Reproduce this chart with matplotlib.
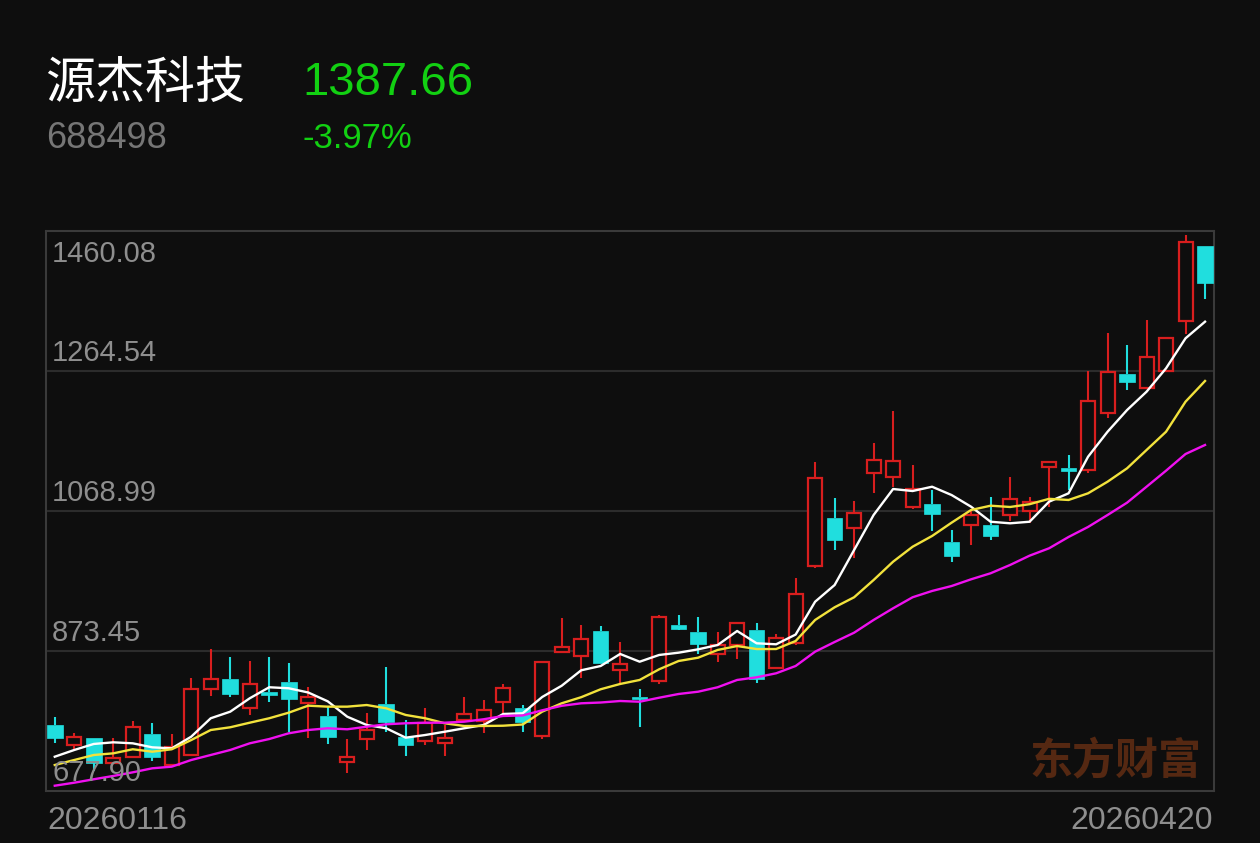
import numpy as np
import matplotlib
matplotlib.use("Agg")
import matplotlib.pyplot as plt

# --- data (60 trading days, 20260116 .. 20260420) ---
opens = [770.1, 742.2, 752.0, 717.0, 725.0, 757.5, 714.2, 728.2, 820.0, 833.9,
         794.3, 816.6, 829.7, 801.3, 782.7, 718.0, 750.1, 799.0, 753.8, 747.8,
         745.4, 777.1, 776.1, 801.8, 793.4, 754.7, 871.6, 866.4, 901.3, 846.9,
         809.6, 832.0, 909.8, 900.4, 869.3, 881.8, 903.2, 849.3, 884.2, 992.2,
         1058.8, 1045.7, 1121.6, 1116.0, 1074.1, 1078.7, 1025.1, 1049.4, 1049.4, 1063.4,
         1069.4, 1130.1, 1128.7, 1126.3, 1206.3, 1261.0, 1241.2, 1264.6, 1334.4, 1439.0]
highs = [781.3, 758.9, 752.0, 752.0, 775.7, 773.3, 757.5, 835.3, 876.3, 865.5,
         859.9, 864.7, 856.3, 823.6, 795.7, 750.6, 786.4, 850.7, 777.1, 793.4,
         770.1, 808.8, 805.0, 827.4, 798.0, 858.5, 919.1, 909.7, 908.3, 886.5,
         820.4, 923.7, 923.7, 920.5, 899.5, 912.2, 912.2, 897.2, 975.0, 1137.8,
         1086.8, 1083.4, 1163.5, 1209.1, 1133.2, 1098.2, 1042.8, 1070.3, 1088.9, 1116.0,
         1088.3, 1137.1, 1147.3, 1264.6, 1317.6, 1300.5, 1335.8, 1310.3, 1454.5, 1439.0]
lows = [745.0, 735.2, 706.3, 717.0, 723.6, 720.2, 711.9, 728.2, 810.6, 808.8,
        784.1, 802.6, 760.7, 751.5, 743.6, 703.5, 735.2, 759.9, 726.8, 742.2,
        726.8, 777.1, 759.3, 786.4, 760.7, 750.1, 871.6, 835.3, 857.1, 828.3,
        766.9, 826.9, 902.8, 869.3, 858.5, 861.9, 829.2, 849.3, 881.8, 988.9,
        1014.5, 1003.2, 1093.7, 1103.0, 1071.3, 1040.7, 997.8, 1021.5, 1028.5, 1055.4,
        1052.7, 1075.1, 1098.3, 1121.7, 1198.5, 1238.0, 1241.2, 1264.6, 1316.3, 1365.1]
closes = [752.4, 753.8, 717.0, 724.4, 767.7, 725.8, 739.8, 820.4, 834.4, 813.0,
          826.9, 812.0, 806.4, 808.8, 753.8, 725.0, 763.1, 774.7, 742.2, 772.5,
          752.4, 785.1, 791.1, 821.4, 774.7, 858.5, 878.6, 889.8, 857.1, 854.9,
          806.0, 920.5, 903.8, 882.8, 881.8, 912.2, 834.0, 892.0, 953.1, 1114.8,
          1028.5, 1065.9, 1140.2, 1139.2, 1099.6, 1064.6, 1006.2, 1063.7, 1034.7, 1085.3,
          1082.0, 1137.1, 1125.3, 1222.8, 1263.2, 1249.4, 1283.6, 1310.3, 1445.03, 1387.66]

ma5 = [725.8, 735.2, 743.6, 745.9, 744.5, 738.9, 737.5, 753.8, 779.5, 788.7,
       807.4, 822.8, 821.4, 815.5, 803.2, 781.7, 770.1, 765.5, 752.4, 756.1,
       760.7, 765.5, 770.1, 785.5, 786.4, 809.2, 824.9, 846.5, 852.5, 869.3,
       858.5, 867.9, 871.1, 875.8, 881.8, 901.4, 884.2, 882.8, 896.4, 942.3,
       965.6, 1014.5, 1063.4, 1099.7, 1096.9, 1102.9, 1091.3, 1075.0, 1054.0, 1051.8,
       1054.0, 1082.0, 1093.7, 1144.8, 1179.7, 1210.0, 1235.6, 1268.3, 1310.2, 1333.4]
ma10 = [714.2, 721.2, 728.2, 730.5, 736.2, 732.8, 736.2, 749.1, 763.1, 766.9,
        773.3, 779.5, 787.3, 797.1, 795.7, 795.7, 798.0, 793.4, 784.1, 779.5,
        772.5, 768.7, 768.7, 769.1, 770.8, 788.7, 800.4, 808.9, 820.0, 827.4,
        833.0, 847.9, 859.5, 864.1, 874.9, 880.4, 876.2, 876.2, 887.4, 916.8,
        934.5, 948.5, 972.6, 998.2, 1019.1, 1034.1, 1052.7, 1070.4, 1076.4, 1074.6,
        1078.5, 1086.0, 1084.4, 1093.7, 1109.9, 1128.6, 1154.2, 1179.7, 1221.7, 1250.6]
ma20 = [685.3, 689.5, 694.3, 698.9, 704.0, 709.6, 711.9, 721.2, 728.2, 735.2,
        744.5, 750.5, 758.5, 763.1, 765.5, 764.1, 767.7, 771.1, 772.5, 773.3,
        773.3, 774.7, 778.1, 782.7, 783.4, 790.6, 796.9, 800.4, 801.5, 803.6,
        802.6, 808.2, 813.4, 816.6, 822.8, 833.0, 836.7, 842.3, 852.5, 872.5,
        886.0, 899.0, 916.8, 933.1, 948.5, 957.3, 964.2, 973.6, 982.0, 993.6,
        1006.6, 1016.9, 1032.7, 1046.7, 1063.4, 1080.6, 1102.9, 1125.3, 1148.6, 1161.2]

y_ticks = [1460.08, 1264.54, 1068.99, 873.45, 677.90]
date_labels = ["20260116", "20260420"]
stock_name = "源杰科技"
stock_code = "688498"
last_price = "1387.66"
pct_change = "-3.97%"

BG = "#0e0e0e"
UP = "#d81e1e"
DOWN = "#20dede"
W, H = 1260, 843

fig = plt.figure(figsize=(W / 100, H / 100), dpi=100, facecolor=BG)
ax = fig.add_axes([46 / W, (H - 791) / H, 1168 / W, 560 / H], facecolor=BG)

x = np.arange(len(closes))
for i in x:
    o, h, l, c = opens[i], highs[i], lows[i], closes[i]
    up = c >= o
    col = UP if up else DOWN
    top, bot = max(o, c), min(o, c)
    # wicks drawn above and below the body so hollow bodies stay empty
    ax.plot([i, i], [top, h], color=col, lw=1.5, solid_capstyle="butt", zorder=3)
    ax.plot([i, i], [l, bot], color=col, lw=1.5, solid_capstyle="butt", zorder=3)
    body = max(top - bot, 1.0)
    if up:
        ax.bar(i, body, bottom=bot, width=0.72, facecolor=BG, edgecolor=col,
               linewidth=1.6, zorder=3)
    else:
        ax.bar(i, body, bottom=bot, width=0.8, facecolor=col, edgecolor=col,
               linewidth=0.5, zorder=3)

ax.plot(x, ma5, color="white", lw=1.7, zorder=4)
ax.plot(x, ma10, color="#f2e23c", lw=1.7, zorder=4)
ax.plot(x, ma20, color="#f010f0", lw=1.7, zorder=4)

ax.set_xlim(-0.45, 59.46)
ax.set_ylim(y_ticks[-1], y_ticks[0])
ax.set_xticks([])
ax.set_yticks([])
for v in y_ticks[1:-1]:
    ax.axhline(v, color="#2c2c2c", lw=1.5, zorder=1)
for s in ax.spines.values():
    s.set_color("#3a3a3a")
    s.set_linewidth(1.5)

num_font = "Liberation Sans"
cjk = ["Noto Sans CJK SC", "DejaVu Sans"]


def fx(px):
    return px / W


def fy(py):
    return 1 - py / H


# y axis labels, drawn inside the plot
label_base = [262, 361, 501, 641, 781]
for v, b in zip(y_ticks, label_base):
    fig.text(fx(52), fy(b), f"{v:.2f}", color="#8e8e8e", fontsize=21,
             family=num_font, va="baseline", ha="left")

fig.text(fx(47), fy(829), date_labels[0], color="#8e8e8e", fontsize=23,
         family=num_font, va="baseline", ha="left")
fig.text(fx(1213), fy(829), date_labels[1], color="#8e8e8e", fontsize=23,
         family=num_font, va="baseline", ha="right")

# header
fig.text(fx(45), fy(98), stock_name, color="white", fontsize=36,
         family=cjk, va="baseline", ha="left")
fig.text(fx(302), fy(95), last_price, color="#12d012", fontsize=34,
         family=num_font, va="baseline", ha="left")
fig.text(fx(46), fy(148), stock_code, color="#767676", fontsize=26,
         family=num_font, va="baseline", ha="left")
fig.text(fx(303), fy(148), pct_change, color="#12d012", fontsize=25,
         family=num_font, va="baseline", ha="left")

# watermark
fig.text(fx(1029), fy(774), "东方财富", color="#552812", fontsize=31,
         family=cjk, weight="bold", va="baseline", ha="left", zorder=0)

fig.savefig("out.png", dpi=100, facecolor=BG)
